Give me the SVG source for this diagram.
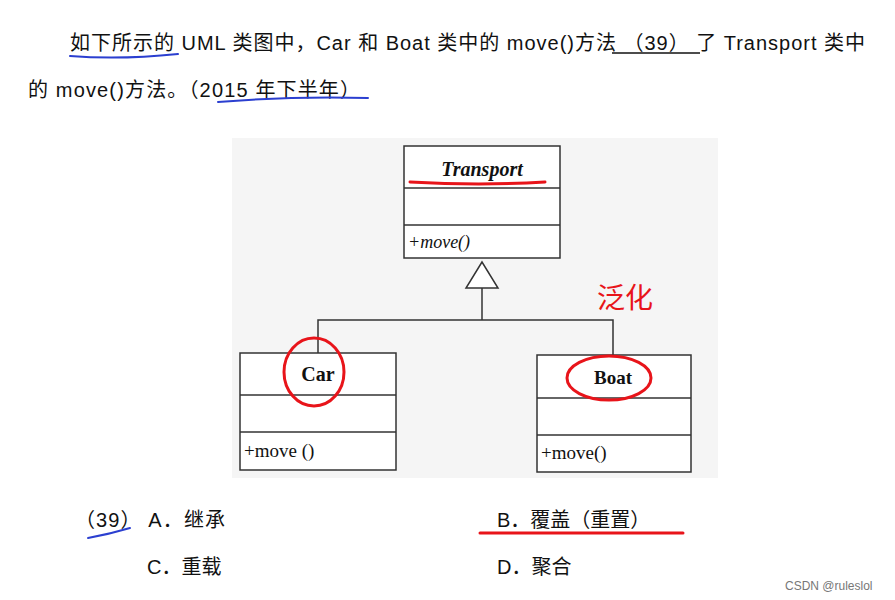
<svg xmlns="http://www.w3.org/2000/svg" width="895" height="600" viewBox="0 0 895 600">
<style>
.t{font-family:"Liberation Sans","Noto Sans CJK SC",sans-serif;font-size:20px;fill:#111}
.u{font-family:"Liberation Serif",serif;fill:#111}
.box{fill:#fff;stroke:#333;stroke-width:1.5}
.ln{stroke:#333;stroke-width:1.5;fill:none}
.red{stroke:#e8141a;stroke-width:3;fill:none;stroke-linecap:round}
.blue{stroke:#2b3fd0;stroke-width:2;fill:none;stroke-linecap:round}
</style>
<rect width="895" height="600" fill="#fff"/>
<text class="t" x="70" y="50" textLength="795" lengthAdjust="spacing">如下所示的 UML 类图中，Car 和 Boat 类中的 move()方法 （39） 了 Transport 类中</text>
<line x1="612" y1="53" x2="700" y2="53" stroke="#111" stroke-width="1.5"/>
<text class="t" x="28" y="97" textLength="332" lengthAdjust="spacing">的 move()方法。（2015 年下半年）</text>
<path class="blue" d="M70 56 Q120 60 178 54"/>
<path class="blue" d="M218 102 Q290 96 368 98"/>
<rect x="232" y="138" width="486" height="340" fill="#f5f5f5"/>
<g id="transport">
<rect class="box" x="404" y="146" width="156" height="112"/>
<line class="ln" x1="404" y1="188" x2="560" y2="188"/><line class="ln" x1="404" y1="225" x2="560" y2="225"/>
<text class="u" x="482" y="176" font-size="20" font-weight="bold" font-style="italic" text-anchor="middle">Transport</text>
<text class="u" x="408" y="248" font-size="18" font-style="italic">+move()</text>
</g>
<g id="car">
<rect class="box" x="240" y="353" width="156" height="117"/>
<line class="ln" x1="240" y1="395" x2="396" y2="395"/><line class="ln" x1="240" y1="432" x2="396" y2="432"/>
<text class="u" x="318" y="381" font-size="20" font-weight="bold" text-anchor="middle">Car</text>
<text class="u" x="244" y="457" font-size="19">+move ()</text>
</g>
<g id="boat">
<rect class="box" x="537" y="355" width="154" height="117"/>
<line class="ln" x1="537" y1="398" x2="691" y2="398"/><line class="ln" x1="537" y1="435" x2="691" y2="435"/>
<text class="u" x="613" y="384" font-size="19" font-weight="bold" text-anchor="middle">Boat</text>
<text class="u" x="541" y="459" font-size="19">+move()</text>
</g>
<g id="connectors">
<polyline class="ln" points="318,353 318,320 613,320 613,355"/>
<line class="ln" x1="482" y1="320" x2="482" y2="288"/>
<polygon points="482,262 466,288 498,288" fill="#fff" stroke="#333" stroke-width="1.5"/>
</g>
<path class="red" d="M410 182 Q480 186 545 182"/>
<ellipse class="red" cx="314" cy="372" rx="30" ry="34"/>
<ellipse class="red" cx="609" cy="378" rx="42" ry="22"/>
<text x="597" y="308" font-family="Noto Sans CJK SC,sans-serif" font-size="28" fill="#e8141a">泛化</text>
<text class="t" x="75" y="527" textLength="150" lengthAdjust="spacing">（39） A．继承</text>
<text class="t" x="497" y="527">B．覆盖（重置）</text>
<path class="red" d="M480 533 L683 533"/>
<path class="blue" d="M88 538 Q110 534 130 528"/>
<text class="t" x="147" y="574">C．重载</text>
<text class="t" x="497" y="574">D．聚合</text>
<text x="785" y="590" font-family="Liberation Sans,sans-serif" font-size="12" fill="#777">CSDN @ruleslol</text>
</svg>
